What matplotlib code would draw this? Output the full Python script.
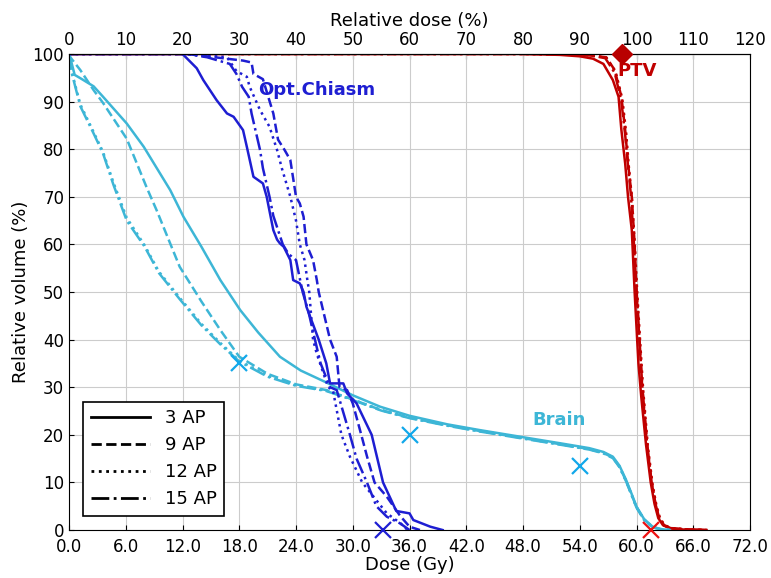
import matplotlib
matplotlib.use("Agg")
import matplotlib.pyplot as plt
from matplotlib.lines import Line2D

# colours
c_brain = '#3db6d6'
c_chiasm = '#1e1ed2'
c_ptv = '#c00000'

styles = ['-', '--', ':', '-.']
plan_labels = ['3 AP', '9 AP', '12 AP', '15 AP']

# ---- Brain DVH (dose Gy, volume %) ----
brain_3_dose = [0, 0.1, 0.6, 1.2, 2.6, 3.6, 6.1, 7.9, 10.7, 12.1, 14.0, 16.0, 18.1, 20.0, 22.3, 24.5, 27.2,
                30.0, 32.9, 36.0, 40.0, 43.4, 48.0, 52.0, 55.0, 56.5, 57.5, 58.2, 58.9, 59.5, 60.0, 60.8,
                61.7, 62.5, 63.5]
brain_3_vol = [100, 99.4, 95.6, 94.9, 93.2, 91.0, 85.4, 80.5, 71.4, 65.8, 59.5, 52.5, 46.2, 41.5, 36.4, 33.5,
               31.0, 28.3, 25.9, 24.0, 22.2, 21.0, 19.5, 18.2, 17.2, 16.4, 15.4, 13.5, 10.5, 7.5, 4.9, 2.3,
               0.7, 0.2, 0]
brain_9_dose = [0, 0.1, 1.2, 2.6, 3.6, 6.1, 8.2, 9.3, 11.7, 14.0, 16.0, 18.0, 21.0, 24.0, 27.2, 30.0, 33.0,
                36.0, 40.0, 43.4, 48.0, 52.0, 55.0, 56.5, 57.5, 58.2, 58.9, 59.5, 60.0, 60.8, 61.7, 62.5, 63.5]
brain_9_vol = [100, 99.4, 96.6, 92.4, 89.7, 82.2, 72.0, 67.0, 55.3, 48.0, 42.0, 36.4, 32.8, 30.6, 29.4, 27.4,
               25.2, 23.6, 22.0, 20.8, 19.3, 18.0, 17.0, 16.2, 15.2, 13.3, 10.3, 7.3, 4.8, 2.2, 0.6, 0.2, 0]
brain_12_dose = [0, 0.3, 1.2, 2.6, 3.6, 4.7, 6.1, 8.0, 9.5, 11.7, 14.0, 16.0, 18.0, 21.0, 24.0, 27.2, 30.0,
                 33.0, 36.0, 40.0, 43.4, 48.0, 52.0, 55.0, 56.5, 57.5, 58.2, 58.9, 59.5, 60.0, 60.8, 61.7,
                 62.5, 63.5]
brain_12_vol = [100, 96.2, 89.4, 83.6, 79.4, 73.0, 65.6, 59.8, 54.3, 48.8, 43.3, 39.3, 35.6, 32.4, 30.4, 29.3,
                27.4, 25.2, 23.6, 22.0, 20.8, 19.3, 18.0, 17.0, 16.2, 15.2, 13.3, 10.3, 7.3, 4.8, 2.2, 0.6,
                0.2, 0]
brain_15_dose = [0, 0.3, 1.2, 2.6, 3.6, 4.7, 6.1, 8.0, 9.5, 11.7, 14.0, 16.0, 18.0, 21.0, 24.0, 27.2, 30.0,
                 33.0, 36.0, 40.0, 43.4, 48.0, 52.0, 55.0, 56.5, 57.5, 58.2, 58.9, 59.5, 60.0, 60.8, 61.7,
                 62.5, 63.5]
brain_15_vol = [100, 95.9, 89.0, 83.3, 79.1, 72.5, 65.0, 59.5, 54.0, 48.5, 43.0, 39.0, 35.4, 32.2, 30.3, 29.2,
                27.3, 25.1, 23.5, 21.9, 20.7, 19.2, 17.9, 16.9, 16.1, 15.1, 13.2, 10.2, 7.2, 4.7, 2.1, 0.6,
                0.2, 0]

# ---- Optic chiasm DVH ----
chiasm_3_dose = [0, 12.0, 13.5, 14.2, 15.6, 16.7, 17.4, 18.4, 18.8, 19.5, 20.5, 20.9, 21.6, 22.0, 22.3, 22.7,
                 23.4, 23.7, 24.4, 24.8, 25.1, 26.4, 27.2, 27.6, 29.0, 29.4, 30.4, 32.0, 33.2, 34.6, 36.0,
                 36.4, 38.2, 39.5]
chiasm_3_vol = [100, 100, 97.0, 94.5, 90.3, 87.5, 86.8, 84.0, 80.5, 74.2, 72.8, 70.0, 63.0, 61.0, 60.2, 59.5,
                56.7, 52.5, 51.8, 50.0, 46.9, 40.0, 35.0, 30.8, 30.8, 28.7, 26.6, 20.0, 10.0, 4.0, 3.5,
                2.1, 0.7, 0]
chiasm_9_dose = [0, 12.4, 18.4, 19.3, 19.5, 20.5, 21.6, 22.1, 22.8, 23.4, 24.0, 24.4, 24.8, 25.1, 25.8, 26.2,
                 26.4, 27.6, 28.3, 28.6, 29.4, 30.0, 30.9, 31.5, 32.3, 33.6, 35.0, 36.0, 37.1]
chiasm_9_vol = [100, 100, 98.6, 98.2, 95.8, 94.7, 87.5, 82.0, 79.8, 77.7, 70.0, 68.6, 65.8, 60.0, 56.7, 52.5,
                50.0, 40.0, 36.4, 30.0, 29.4, 26.6, 20.0, 15.5, 10.0, 7.0, 3.0, 0.7, 0]
chiasm_12_dose = [0, 12.4, 16.7, 17.7, 18.8, 19.1, 20.2, 21.2, 22.0, 22.5, 23.4, 24.0, 24.4, 24.9, 25.2, 25.4,
                  25.8, 26.2, 27.4, 27.9, 28.8, 29.7, 31.0, 32.2, 33.6, 35.0, 35.8]
chiasm_12_vol = [100, 100, 99.3, 96.4, 95.2, 93.1, 88.2, 84.7, 79.8, 76.0, 70.0, 65.0, 60.0, 56.7, 52.5, 50.0,
                 40.0, 37.0, 30.0, 29.4, 20.0, 15.4, 10.0, 7.0, 3.5, 1.5, 0]
chiasm_15_dose = [0, 12.4, 14.6, 17.0, 17.7, 18.3, 19.0, 19.3, 20.2, 20.5, 21.2, 21.6, 22.6, 23.2, 24.0, 24.7,
                  25.3, 26.0, 26.6, 27.6, 28.3, 29.7, 30.4, 31.5, 32.5, 33.6, 35.0, 36.0]
chiasm_15_vol = [100, 100, 99.3, 97.9, 95.8, 93.1, 91.0, 87.5, 79.8, 76.0, 70.0, 66.0, 60.0, 58.0, 56.7, 50.0,
                 46.0, 40.0, 35.0, 30.0, 29.4, 20.0, 15.0, 10.0, 5.0, 2.8, 1.4, 0]

# ---- PTV DVH ----
ptv_3_dose = [0, 48.0, 51.9, 54.0, 55.4, 56.5, 57.5, 58.1, 58.4, 58.8, 59.1, 59.5, 59.8, 60.2, 60.5, 61.0,
              61.5, 61.9, 62.3, 62.8, 63.5, 65.0, 67.4]
ptv_3_vol = [100, 100, 99.8, 99.5, 99.0, 97.9, 94.5, 91.0, 84.0, 77.0, 70.0, 63.0, 50.0, 35.0, 28.0, 18.0,
             10.0, 5.5, 2.5, 1.0, 0.4, 0.1, 0]
ptv_9_dose = [0, 48.0, 54.0, 55.4, 56.8, 57.7, 58.4, 58.8, 59.1, 59.5, 59.8, 60.0, 60.3, 60.6, 61.1, 61.6,
              62.0, 62.4, 62.9, 63.6, 65.5, 67.4]
ptv_9_vol = [100, 100, 99.9, 99.6, 99.3, 96.6, 91.0, 84.0, 77.0, 70.0, 60.0, 50.0, 40.0, 30.0, 18.0, 10.0,
             5.5, 2.5, 1.0, 0.4, 0.1, 0]
ptv_12_dose = [0, 48.0, 54.0, 55.4, 56.8, 57.8, 58.5, 58.9, 59.2, 59.5, 59.8, 60.1, 60.4, 60.7, 61.2, 61.7,
               62.1, 62.5, 63.0, 63.7, 65.5, 67.4]
ptv_12_vol = [100, 100, 99.9, 99.7, 99.2, 96.2, 90.5, 83.5, 76.0, 70.0, 60.5, 49.0, 39.0, 29.5, 17.5, 9.5,
              5.2, 2.4, 1.0, 0.4, 0.1, 0]
ptv_15_dose = [0, 48.0, 54.0, 55.4, 56.7, 57.7, 58.4, 58.8, 59.1, 59.4, 59.7, 60.0, 60.3, 60.6, 61.1, 61.6,
               62.0, 62.4, 62.9, 63.6, 65.5, 67.4]
ptv_15_vol = [100, 100, 99.9, 99.6, 99.1, 96.0, 90.0, 83.0, 76.5, 70.5, 61.0, 50.5, 40.5, 30.5, 18.5, 10.0,
              5.5, 2.5, 1.0, 0.4, 0.1, 0]

# constraint markers
brain_mark_dose = [18.0, 36.0, 54.0]
brain_mark_vol = [35.0, 20.0, 13.5]
chiasm_mark_dose = [33.2]
chiasm_mark_vol = [0]
ptv_mark_dose = [61.5]
ptv_mark_vol = [0]
ptv_prescr_dose = [58.5]
ptv_prescr_vol = [100]

brain = [(brain_3_dose, brain_3_vol), (brain_9_dose, brain_9_vol),
         (brain_12_dose, brain_12_vol), (brain_15_dose, brain_15_vol)]
chiasm = [(chiasm_3_dose, chiasm_3_vol), (chiasm_9_dose, chiasm_9_vol),
          (chiasm_12_dose, chiasm_12_vol), (chiasm_15_dose, chiasm_15_vol)]
ptv = [(ptv_3_dose, ptv_3_vol), (ptv_9_dose, ptv_9_vol),
       (ptv_12_dose, ptv_12_vol), (ptv_15_dose, ptv_15_vol)]

fig = plt.figure(figsize=(7.71, 5.78), dpi=100)
ax = fig.add_axes([0.0895, 0.083, 0.8833, 0.8237])

for (d, v), ls in zip(ptv, styles):
    ax.plot(d, v, color=c_ptv, ls=ls, lw=1.8)
for (d, v), ls in zip(brain, styles):
    ax.plot(d, v, color=c_brain, ls=ls, lw=1.8)
for (d, v), ls in zip(chiasm, styles):
    ax.plot(d, v, color=c_chiasm, ls=ls, lw=1.8)

ax.plot(brain_mark_dose, brain_mark_vol, 'x', color='#12a8ea', ms=11, mew=1.6, clip_on=False)
ax.plot(chiasm_mark_dose, chiasm_mark_vol, 'x', color=c_chiasm, ms=11, mew=1.6, clip_on=False, zorder=5)
ax.plot(ptv_mark_dose, ptv_mark_vol, 'x', color='#ee1111', ms=11, mew=1.6, clip_on=False, zorder=5)
ax.plot(ptv_prescr_dose, ptv_prescr_vol, 'D', color='#b80000', ms=10, clip_on=False, zorder=5)

ax.text(20.0, 92.4, 'Opt.Chiasm', color=c_chiasm, fontsize=13, fontweight='bold', va='center')
ax.text(58.0, 96.4, 'PTV', color=c_ptv, fontsize=13, fontweight='bold', va='center')
ax.text(49.0, 23.2, 'Brain', color=c_brain, fontsize=13, fontweight='bold', va='center')

ax.set_xlim(0, 72)
ax.set_ylim(0, 100)
ax.set_xticks(range(0, 73, 6))
ax.set_xticklabels([f'{t:.1f}' for t in range(0, 73, 6)])
ax.set_yticks(range(0, 101, 10))
ax.tick_params(labelsize=12, direction='in')
ax.tick_params(axis='x', pad=6)
ax.grid(True, color='#cccccc', lw=0.8)
ax.set_xlabel('Dose (Gy)', fontsize=13, labelpad=0)
ax.set_ylabel('Relative volume (%)', fontsize=13, labelpad=2)

top = ax.secondary_xaxis('top', functions=(lambda d: d / 0.6, lambda p: p * 0.6))
top.set_xticks(range(0, 121, 10))
top.tick_params(labelsize=12, direction='in')
top.set_xlabel('Relative dose (%)', fontsize=13)

handles = [Line2D([0], [0], color='black', ls=ls, lw=2) for ls in styles]
leg = ax.legend(handles, plan_labels, loc='lower left', fontsize=13, handlelength=3.3,
                fancybox=False, framealpha=1, borderaxespad=0.8)
leg.get_frame().set_edgecolor('black')
leg.get_frame().set_linewidth(1.2)

fig.savefig('out.png', dpi=100)
